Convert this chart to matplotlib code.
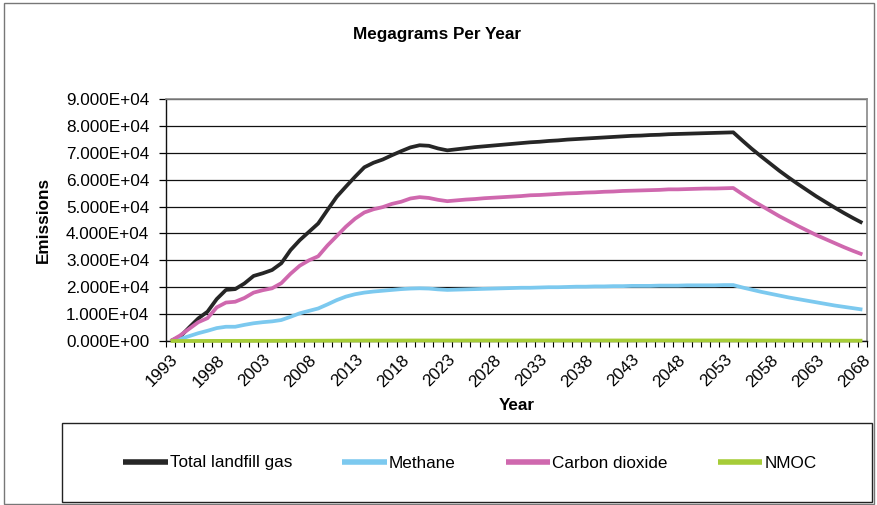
import matplotlib
matplotlib.use("Agg")
import matplotlib.pyplot as plt
from matplotlib.patches import Rectangle
from matplotlib.ticker import FixedLocator, FuncFormatter

plt.rcParams['font.family'] = ['Liberation Sans', 'DejaVu Sans']

years = list(range(1993, 2069))

total_lfg = [
    0, 1500, 5000, 8400, 10900, 15600, 19000, 19300, 21400, 24200,
    25200, 26400, 28900, 33800, 37500, 40600, 43700, 48700, 53600, 57400,
    61100, 64600, 66300, 67500, 69100, 70600, 72000, 72800, 72600, 71600,
    70900,
    71300, 71700, 72100, 72400, 72700, 73000, 73300, 73600, 73900, 74100,
    74400, 74600, 74900, 75100, 75300, 75500, 75700, 75900, 76100, 76300,
    76400, 76600, 76700, 76900, 77000, 77100, 77200, 77300, 77400, 77500,
    77600,
    74500, 71500, 68700, 66000, 63300, 60800, 58400, 56100, 53800, 51700,
    49600, 47600, 45700, 43900,
]

methane = [
    0, 700, 1800, 2900, 3800, 4800, 5300, 5300, 6000, 6600,
    7000, 7300, 7800, 9000, 10300, 11200, 12100, 13600, 15200, 16500,
    17400, 18000, 18400, 18700, 19000, 19300, 19500, 19600, 19500, 19200,
    19000,
    19100, 19200, 19300, 19400, 19500, 19600, 19700, 19800, 19800, 19900,
    20000, 20000, 20100, 20200, 20200, 20300, 20300, 20400, 20400, 20500,
    20500, 20500, 20600, 20600, 20600, 20700, 20700, 20700, 20700, 20800,
    20800,
    19900, 19100, 18300, 17600, 16900, 16200, 15600, 15000, 14400, 13800,
    13200, 12700, 12200, 11700,
]

carbon_dioxide = [
    0, 2000, 4500, 7000, 8500, 12500, 14300, 14600, 16000, 18000,
    18900, 19600, 21500, 25000, 28000, 30000, 31500, 35500, 39000, 42500,
    45500, 47800, 49000, 49800, 51000, 51800, 53000, 53500, 53200, 52500,
    52000,
    52300, 52600, 52800, 53100, 53300, 53500, 53700, 53900, 54200, 54300,
    54500, 54700, 54900, 55000, 55200, 55300, 55500, 55600, 55800, 55900,
    56000, 56100, 56200, 56400, 56400, 56500, 56600, 56700, 56700, 56800,
    56900,
    54600, 52400, 50400, 48400, 46400, 44600, 42800, 41100, 39400, 37900,
    36400, 34900, 33500, 32200,
]

nmoc = [
    0, 4, 13, 22, 29, 42, 51, 52, 57, 65,
    68, 71, 77, 90, 100, 109, 117, 130, 143, 154,
    164, 173, 178, 181, 185, 189, 193, 195, 194, 192,
    190,
    191, 192, 193, 194, 195, 196, 196, 197, 198, 199,
    199, 200, 201, 201, 202, 202, 203, 203, 204, 204,
    205, 205, 206, 206, 206, 207, 207, 207, 207, 208,
    208,
    200, 192, 184, 177, 170, 163, 156, 150, 144, 139,
    133, 128, 122, 118,
]

series = [
    ("Total landfill gas", total_lfg, "#262626"),
    ("Methane", methane, "#7cc9ef"),
    ("Carbon dioxide", carbon_dioxide, "#cf68ae"),
    ("NMOC", nmoc, "#a6cc38"),
]

W, H = 878, 505
fig = plt.figure(figsize=(W / 100, H / 100), dpi=100)

# outer chart border
fig.patches.append(Rectangle((4 / W, 1 / H), 870 / W, 501 / H, transform=fig.transFigure,
                             fill=False, edgecolor="#777777", linewidth=1.0))

ax = fig.add_axes([166 / W, (H - 341) / H, 701 / W, 242 / H])
x = list(range(len(years)))

for name, vals, col in series:
    ax.plot(x, vals, color=col, linewidth=2.7, label=name, solid_capstyle='butt',
            zorder=4 if name == "NMOC" else 3, clip_on=(name != "NMOC"))

ax.set_xlim(-0.5, len(years) - 0.5)
ax.set_ylim(0, 90000)

ax.yaxis.set_major_locator(FixedLocator([i * 10000 for i in range(10)]))
ax.yaxis.set_major_formatter(FuncFormatter(lambda v, p: "%.3fE+%02d" % (v / 1e4, 4) if v > 0 else "0.000E+00"))
ax.grid(axis='y', color='#111111', linewidth=0.9, zorder=1)
ax.tick_params(axis='y', direction='out', length=5, width=0.9, labelsize=12.3, pad=7)

label_pos = [i for i in x if (years[i] - 1993) % 5 == 0]
ax.set_xticks(label_pos)
ax.set_xticklabels([str(years[i]) for i in label_pos], rotation=45, ha='right',
                   rotation_mode='anchor', fontsize=12.3)
ax.set_xticks([i - 0.5 for i in range(len(years) + 1)], minor=True)
ax.tick_params(axis='x', which='major', length=0, pad=8)
ax.tick_params(axis='x', which='minor', direction='out', length=4, width=0.8)

for s in ['top', 'right']:
    ax.spines[s].set_color('#888888')
    ax.spines[s].set_linewidth(1.2)
for s in ['left', 'bottom']:
    ax.spines[s].set_color('#111111')
    ax.spines[s].set_linewidth(1.0)

ax.set_xlabel("Year", fontsize=12.3, fontweight='bold', labelpad=6)
ax.set_ylabel("Emissions", fontsize=12.3, fontweight='bold', labelpad=11)

fig.text(437 / W, 1 - 34 / H, "Megagrams Per Year", ha='center', va='center',
         fontsize=12.3, fontweight='bold')

# legend frame
fig.patches.append(Rectangle((62 / W, 3 / H), 810 / W, 79 / H, transform=fig.transFigure,
                             fill=False, edgecolor="#222222", linewidth=1.0))
handles, labels = ax.get_legend_handles_labels()
leg = fig.legend(handles, labels, ncol=4, loc='center', bbox_to_anchor=(470 / W, 1 - 463 / H),
                 frameon=False, fontsize=12.3, handlelength=2.6, handletextpad=0.15,
                 columnspacing=2.9)
for lh in leg.get_lines():
    lh.set_linewidth(4)

fig.savefig("out.png", dpi=100)
